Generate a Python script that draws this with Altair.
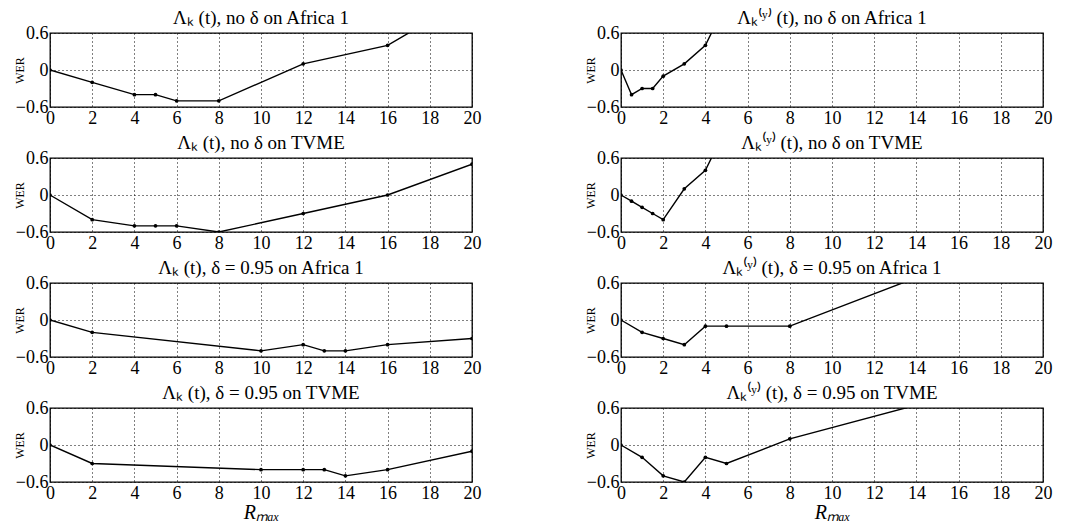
import altair as alt
import pandas as pd

titles = [
    "Λₖ (t), no δ on Africa 1",
    "Λₖ⁽ʸ⁾ (t), no δ on Africa 1",
    "Λₖ (t), no δ on TVME",
    "Λₖ⁽ʸ⁾ (t), no δ on TVME",
    "Λₖ (t), δ = 0.95 on Africa 1",
    "Λₖ⁽ʸ⁾ (t), δ = 0.95 on Africa 1",
    "Λₖ (t), δ = 0.95 on TVME",
    "Λₖ⁽ʸ⁾ (t), δ = 0.95 on TVME",
]

x_p1 = [0, 2, 4, 5, 6, 8, 12, 16, 20]
y_p1 = [0, -0.2, -0.4, -0.4, -0.5, -0.5, 0.1, 0.4, 1.2]

x_p2 = [0, 0.5, 1, 1.5, 2, 3, 4, 5]
y_p2 = [0, -0.4, -0.3, -0.3, -0.1, 0.1, 0.4, 1.1]

x_p3 = [0, 2, 4, 5, 6, 8, 12, 16, 20]
y_p3 = [0, -0.4, -0.5, -0.5, -0.5, -0.6, -0.3, 0.0, 0.5]

x_p4 = [0, 0.5, 1, 1.5, 2, 3, 4, 5]
y_p4 = [0, -0.1, -0.2, -0.3, -0.4, 0.1, 0.4, 1.1]

x_p5 = [0, 2, 10, 12, 13, 14, 16, 20]
y_p5 = [0, -0.2, -0.5, -0.4, -0.5, -0.5, -0.4, -0.3]

x_p6 = [0, 1, 2, 3, 4, 5, 8, 16]
y_p6 = [0, -0.2, -0.3, -0.4, -0.1, -0.1, -0.1, 0.95]

x_p7 = [0, 2, 10, 12, 13, 14, 16, 20]
y_p7 = [0, -0.3, -0.4, -0.4, -0.4, -0.5, -0.4, -0.1]

x_p8 = [0, 1, 2, 3, 4, 5, 8, 16]
y_p8 = [0, -0.2, -0.5, -0.6, -0.2, -0.3, 0.1, 0.83]

xs = [x_p1, x_p2, x_p3, x_p4, x_p5, x_p6, x_p7, x_p8]
ys = [y_p1, y_p2, y_p3, y_p4, y_p5, y_p6, y_p7, y_p8]

x_ticks = list(range(0, 21, 2))
y_ticks = [-0.6, 0, 0.6]

FONT = "Liberation Serif"
W, H = 422, 74


def panel(i, bottom):
    df = pd.DataFrame({"x": xs[i], "y": ys[i]})
    xaxis = alt.Axis(
        values=x_ticks,
        title="Rₘₐₓ" if bottom else None,
        titleFontStyle="italic",
        titleFontSize=20,
        titleFontWeight="normal",
        titlePadding=0,
    )
    yaxis = alt.Axis(
        values=y_ticks,
        title="WER",
        titleFontSize=12,
        titleFontWeight="normal",
        titleX=-24,
        labelExpr="datum.value == 0 ? '0' : format(datum.value, '.1f')",
    )
    enc = dict(
        x=alt.X("x:Q", scale=alt.Scale(domain=[0, 20], nice=False), axis=xaxis),
        y=alt.Y("y:Q", scale=alt.Scale(domain=[-0.6, 0.6], nice=False), axis=yaxis),
    )
    line = alt.Chart(df).mark_line(color="black", strokeWidth=1.4, clip=True).encode(**enc)
    pts = alt.Chart(df).mark_point(filled=True, color="black", size=14, opacity=1, clip=True).encode(**enc)
    return alt.layer(line, pts).properties(width=W, height=H, title=titles[i])


rows = []
for r in range(4):
    rows.append(
        alt.hconcat(panel(2 * r, r == 3), panel(2 * r + 1, r == 3), spacing=101)
    )

chart = (
    alt.vconcat(*rows, spacing=5)
    .properties(padding={"left": 4, "top": 0, "right": 5, "bottom": 0})
    .configure(font=FONT)
    .configure_view(stroke="black", strokeWidth=1.3)
    .configure_axis(
        labelFont=FONT,
        titleFont=FONT,
        labelFontSize=18,
        labelColor="black",
        titleColor="black",
        labelPadding=2,
        ticks=False,
        domain=False,
        grid=True,
        gridColor="black",
        gridDash=[1, 3],
        gridOpacity=1,
        gridWidth=1,
        labelFlush=False,
        labelOverlap=False,
    )
    .configure_title(font=FONT, fontSize=19, fontWeight="normal", color="black", offset=-4)
)

chart.save("out.html", embed_options={"renderer": "svg", "actions": False})
